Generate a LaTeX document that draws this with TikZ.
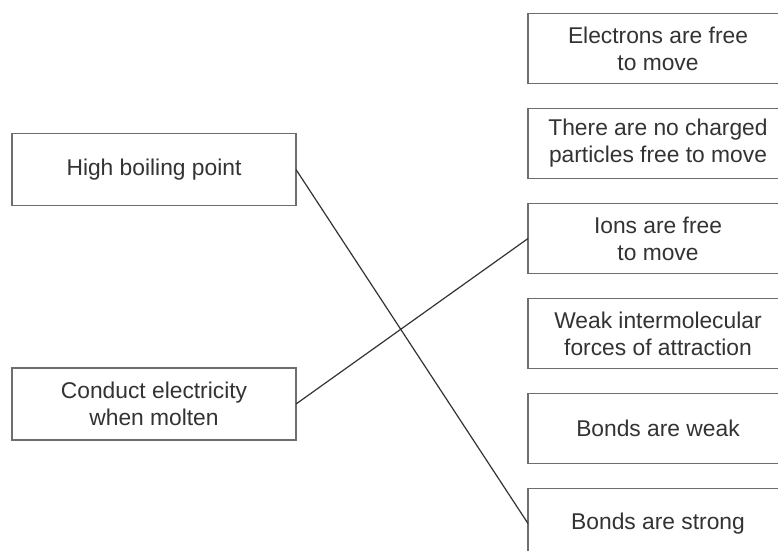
\documentclass[tikz,border=0pt]{standalone}
\usepackage{fontspec}
\setmainfont{Liberation Sans}
\usepackage{tikz}
\usetikzlibrary{positioning}
\definecolor{boxgray}{HTML}{6E6E6E}
\definecolor{inkgray}{HTML}{333333}
\tikzset{
  card/.style={draw=boxgray, line width=1.4pt, rectangle, align=center,
    text=inkgray, minimum height=70pt, inner sep=0pt, outer sep=0pt,
    font=\fontsize{22.8}{27}\selectfont},
  leftcard/.style={card, minimum width=284pt, minimum height=72pt},
  rightcard/.style={card, minimum width=260pt},
  link/.style={draw=inkgray, line width=1.2pt}
}
\begin{document}
\begin{tikzpicture}[x=1pt,y=-1pt]
\useasboundingbox (0,0) rectangle (778,550);
\clip (0,0) rectangle (778,550);
\fill[white] (0,0) rectangle (778,550);
% properties
\node[leftcard] (boil) at (154,169.5) {High boiling point};
\node[leftcard] (molten) at (154,404) {Conduct electricity\\when molten};
% reasons
\node[rightcard] (electrons) at (658,48.5) {Electrons are free\\to move};
\node[rightcard, below=25pt of electrons] (nocharge) {There are no charged\\particles free to move};
\node[rightcard, below=25pt of nocharge] (ions) {Ions are free\\to move};
\node[rightcard, below=25pt of ions] (weakimf) {Weak intermolecular\\forces of attraction};
\node[rightcard, below=25pt of weakimf] (weakbond) {Bonds are weak};
\node[rightcard, below=25pt of weakbond] (strongbond) {Bonds are strong};
% matches
\draw[link] (boil.east) -- (strongbond.west);
\draw[link] (molten.east) -- (ions.west);
\end{tikzpicture}
\end{document}
